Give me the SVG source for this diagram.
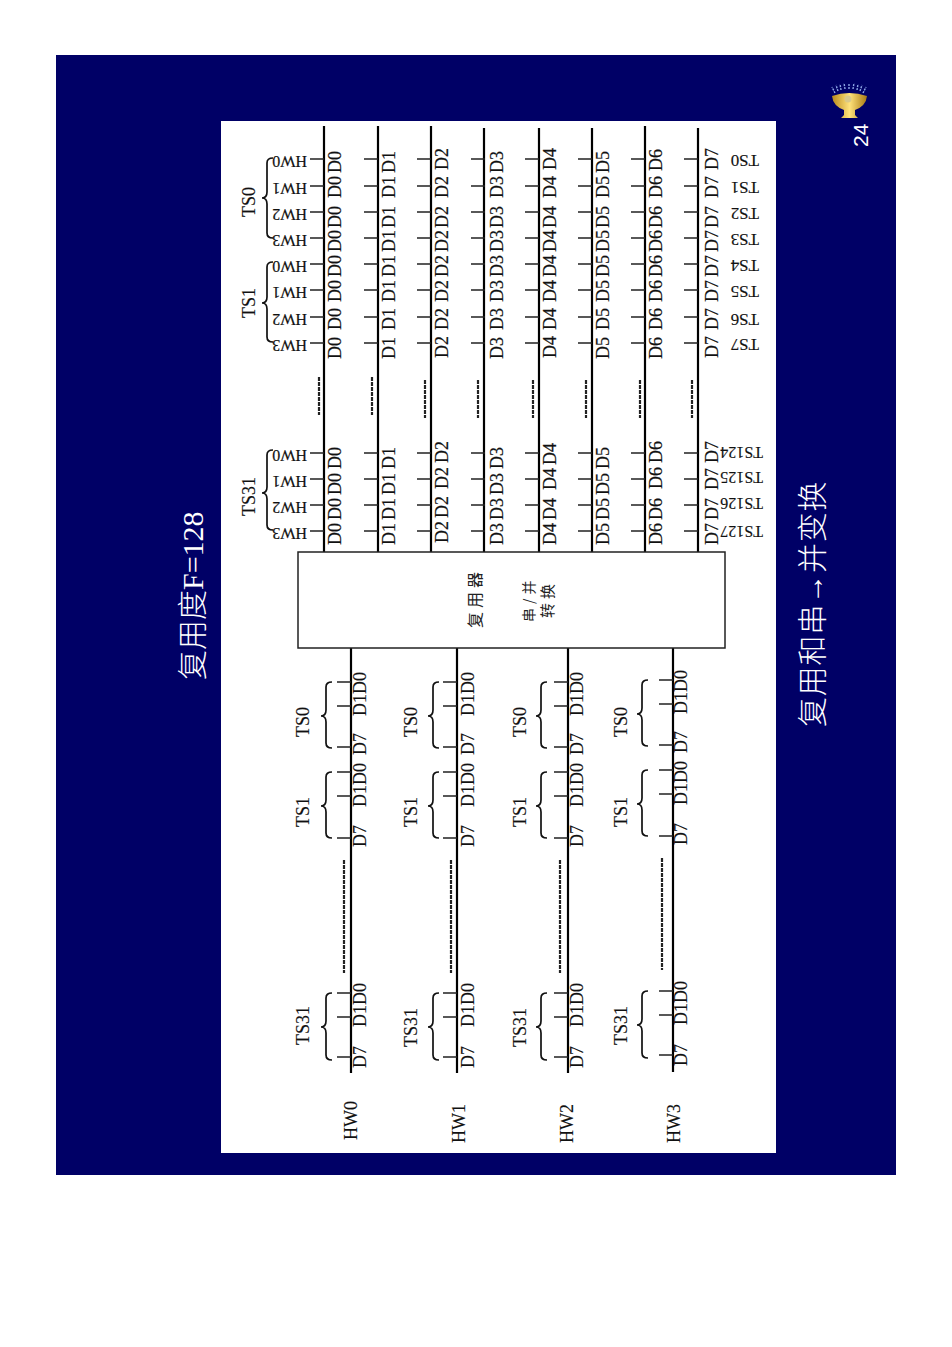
<svg xmlns="http://www.w3.org/2000/svg" width="952" height="1347" viewBox="0 0 952 1347">
<style>
text{font-family:"Liberation Serif","Noto Sans CJK SC",serif;fill:#111}
.d{font-size:18px;stroke:#111;stroke-width:.2}
.l{font-size:18px;stroke:#111;stroke-width:.15}
.r{font-size:17px;stroke:#111;stroke-width:.15}
.q{font-size:16px;stroke:#111;stroke-width:.15}
.h{font-size:16px;stroke:#111;stroke-width:.2}
.z{font-family:"Noto Sans CJK SC","Liberation Serif",serif;fill:#222}
.w{fill:#fff;font-size:30px;font-weight:300}
.bus{stroke:#000;stroke-width:2.2;fill:none}
.tick{stroke:#222;stroke-width:1.5;fill:none}
.brace{stroke:#111;stroke-width:1.7;fill:none}
.dash{stroke:#222;stroke-width:2.2;fill:none;stroke-dasharray:4 1}
</style>
<defs>
<linearGradient id="gold" x1="0" y1="0" x2="1" y2="0"><stop offset="0" stop-color="#b98a1c"/><stop offset=".5" stop-color="#ffe27a"/><stop offset="1" stop-color="#a87a14"/></linearGradient>
<path id="tu" d="M-14,159H0M-14,186H0M-14,212H0M-14,238H0M-14,264H0M-14,290H0M-14,317H0M-14,343H0M-14,453H0M-14,479H0M-14,505H0M-14,531H0"/>
<path id="tl" d="M-14,682H0M-14,706H0M-14,747H0M-14,772H0M-14,796H0M-14,838H0M-14,993H0M-14,1017H0M-14,1057H0"/>
<path id="bl" d="M6,682Q0,682 0,687V710Q0,716 -5,716Q0,716 0,722V743Q0,748 6,748M6,772Q0,772 0,777V800Q0,806 -5,806Q0,806 0,812V833Q0,838 6,838M6,993Q0,993 0,998V1021Q0,1027 -5,1027Q0,1027 0,1033V1055Q0,1060 6,1060"/>
</defs>
<rect width="952" height="1347" fill="#fff"/>
<rect x="56" y="55" width="840" height="1120" fill="#000066"/>
<rect x="221" y="121" width="555" height="1032" fill="#fff"/>

<text class="w" transform="translate(203,680) rotate(-90)">复用度F=128</text>
<text class="w" transform="translate(823,727) rotate(-90)" letter-spacing=".8">复用和串→并变换</text>
<text transform="translate(868,147) rotate(-90)" style="font-family:'Liberation Sans',sans-serif;font-size:21px;fill:#fff">24</text>

<g id="icon">
<path d="M835,93L832,87M838,91L836,85M841,90L840,84M845,89L844,83M849,89V83M853,89L854,83M857,90L858,84M860,91L862,85M863,93L866,87" stroke="#8fa8e8" stroke-width="1.4" stroke-dasharray="2 1" fill="none"/>
<path d="M832,96Q849,90 867,96Q866,106 855,110L855,115L858,118H841L844,115L844,110Q833,106 832,96Z" fill="url(#gold)"/>
<circle cx="848" cy="99" r="3.5" fill="#d9c98a"/>
</g>

<g id="connectors">
<path class="bus" d="M324,126V552M378,126V552M431,126V552M484,128V552M539,128V552M592,128V552M645,126V552M698,128V552M351,648V1073M457,648V1073M568,648V1073M673,648V1072"/>
<g class="tick">
<use href="#tu" x="324"/><use href="#tu" x="378"/><use href="#tu" x="431"/><use href="#tu" x="485"/><use href="#tu" x="539"/><use href="#tu" x="592"/><use href="#tu" x="645"/><use href="#tu" x="698"/>
<use href="#tl" x="351"/><use href="#tl" x="457"/><use href="#tl" x="568"/><use href="#tl" x="673" y="-2"/>
</g>
<path class="dash" d="M319,377V415M372,377V415M425,380V418M478,380V418M533,380V418M586,380V418M640,380V418M692,380V418M344,860V973M451,860V973M560,860V973M662,858V970"/>
</g>

<g id="mux">
<rect x="298" y="552" width="427" height="96" fill="#fff" stroke="#222" stroke-width="1.5"/>
<text class="z" font-size="16" letter-spacing="4" transform="translate(481,628) rotate(-90)">复用器</text>
<text class="z" font-size="14" letter-spacing="4" transform="translate(534,622) rotate(-90)">串/并</text>
<text class="z" font-size="15" letter-spacing="4" transform="translate(553,618) rotate(-90)">转换</text>
</g>

<g id="hw-labels-top">
<path class="brace" d="M273,158Q267,158 267,163V192Q267,198 262,198Q267,198 267,204V233Q267,238 273,238M273,262Q267,262 267,267V297Q267,303 262,303Q267,303 267,309V337Q267,342 273,342M273,450Q267,450 267,455V487Q267,493 262,493Q267,493 267,499V525Q267,530 273,530"/>
<text class="l" transform="translate(255,217) rotate(-90)">TS0</text>
<text class="l" transform="translate(255,318) rotate(-90)">TS1</text>
<text class="l" transform="translate(255,516) rotate(-90)">TS31</text>
<text class="h" transform="translate(307,156) rotate(180)">HW0</text>
<text class="h" transform="translate(307,183) rotate(180)">HW1</text>
<text class="h" transform="translate(307,209) rotate(180)">HW2</text>
<text class="h" transform="translate(307,235) rotate(180)">HW3</text>
<text class="h" transform="translate(307,261) rotate(180)">HW0</text>
<text class="h" transform="translate(307,287) rotate(180)">HW1</text>
<text class="h" transform="translate(307,314) rotate(180)">HW2</text>
<text class="h" transform="translate(307,340) rotate(180)">HW3</text>
<text class="h" transform="translate(307,450) rotate(180)">HW0</text>
<text class="h" transform="translate(307,476) rotate(180)">HW1</text>
<text class="h" transform="translate(307,502) rotate(180)">HW2</text>
<text class="h" transform="translate(307,528) rotate(180)">HW3</text>
</g>

<g id="col-d0" transform="translate(341,0) rotate(-90)">
<text class="d" x="-359">D0</text><text class="d" x="-330">D0</text><text class="d" x="-302">D0</text><text class="d" x="-277">D0</text><text class="d" x="-252">D0</text><text class="d" x="-228">D0</text><text class="d" x="-198">D0</text><text class="d" x="-173">D0</text>
<text class="d" x="-545">D0</text><text class="d" x="-520">D0</text><text class="d" x="-495">D0</text><text class="d" x="-469">D0</text>
</g>
<g id="col-d1" transform="translate(395,0) rotate(-90)">
<text class="d" x="-359">D1</text><text class="d" x="-330">D1</text><text class="d" x="-302">D1</text><text class="d" x="-277">D1</text><text class="d" x="-252">D1</text><text class="d" x="-228">D1</text><text class="d" x="-198">D1</text><text class="d" x="-173">D1</text>
<text class="d" x="-545">D1</text><text class="d" x="-520">D1</text><text class="d" x="-495">D1</text><text class="d" x="-469">D1</text>
</g>
<g id="col-d2" transform="translate(448,0) rotate(-90)">
<text class="d" x="-358">D2</text><text class="d" x="-330">D2</text><text class="d" x="-302">D2</text><text class="d" x="-277">D2</text><text class="d" x="-252">D2</text><text class="d" x="-228">D2</text><text class="d" x="-198">D2</text><text class="d" x="-170">D2</text>
<text class="d" x="-543">D2</text><text class="d" x="-518">D2</text><text class="d" x="-489">D2</text><text class="d" x="-463">D2</text>
</g>
<g id="col-d3" transform="translate(503,0) rotate(-90)">
<text class="d" x="-359">D3</text><text class="d" x="-330">D3</text><text class="d" x="-302">D3</text><text class="d" x="-277">D3</text><text class="d" x="-252">D3</text><text class="d" x="-228">D3</text><text class="d" x="-198">D3</text><text class="d" x="-173">D3</text>
<text class="d" x="-545">D3</text><text class="d" x="-520">D3</text><text class="d" x="-495">D3</text><text class="d" x="-469">D3</text>
</g>
<g id="col-d4" transform="translate(556,0) rotate(-90)">
<text class="d" x="-358">D4</text><text class="d" x="-330">D4</text><text class="d" x="-302">D4</text><text class="d" x="-277">D4</text><text class="d" x="-252">D4</text><text class="d" x="-228">D4</text><text class="d" x="-198">D4</text><text class="d" x="-170">D4</text>
<text class="d" x="-545">D4</text><text class="d" x="-520">D4</text><text class="d" x="-490">D4</text><text class="d" x="-465">D4</text>
</g>
<g id="col-d5" transform="translate(609,0) rotate(-90)">
<text class="d" x="-359">D5</text><text class="d" x="-330">D5</text><text class="d" x="-302">D5</text><text class="d" x="-277">D5</text><text class="d" x="-252">D5</text><text class="d" x="-228">D5</text><text class="d" x="-198">D5</text><text class="d" x="-173">D5</text>
<text class="d" x="-545">D5</text><text class="d" x="-520">D5</text><text class="d" x="-495">D5</text><text class="d" x="-469">D5</text>
</g>
<g id="col-d6" transform="translate(662,0) rotate(-90)">
<text class="d" x="-359">D6</text><text class="d" x="-330">D6</text><text class="d" x="-302">D6</text><text class="d" x="-277">D6</text><text class="d" x="-252">D6</text><text class="d" x="-228">D6</text><text class="d" x="-198">D6</text><text class="d" x="-171">D6</text>
<text class="d" x="-545">D6</text><text class="d" x="-520">D6</text><text class="d" x="-489">D6</text><text class="d" x="-463">D6</text>
</g>
<g id="col-d7" transform="translate(718,0) rotate(-90)">
<text class="d" x="-358">D7</text><text class="d" x="-330">D7</text><text class="d" x="-302">D7</text><text class="d" x="-277">D7</text><text class="d" x="-252">D7</text><text class="d" x="-228">D7</text><text class="d" x="-198">D7</text><text class="d" x="-170">D7</text>
<text class="d" x="-545">D7</text><text class="d" x="-520">D7</text><text class="d" x="-490">D7</text><text class="d" x="-463">D7</text>
</g>

<g id="ts-labels-right">
<text class="r" transform="translate(759,155) rotate(180)">TS0</text>
<text class="r" transform="translate(759,182) rotate(180)">TS1</text>
<text class="r" transform="translate(759,208) rotate(180)">TS2</text>
<text class="r" transform="translate(759,234) rotate(180)">TS3</text>
<text class="r" transform="translate(759,260) rotate(180)">TS4</text>
<text class="r" transform="translate(759,286) rotate(180)">TS5</text>
<text class="r" transform="translate(759,314) rotate(180)">TS6</text>
<text class="r" transform="translate(759,339) rotate(180)">TS7</text>
<text class="q" transform="translate(763,447) rotate(180)">TS124</text>
<text class="q" transform="translate(763,472) rotate(180)">TS125</text>
<text class="q" transform="translate(763,498) rotate(180)">TS126</text>
<text class="q" transform="translate(763,526) rotate(180)">TS127</text>
</g>

<g id="input-hw0">
<use href="#bl" x="326" class="brace"/>
<g transform="translate(309,0) rotate(-90)"><text class="l" x="-737">TS0</text><text class="l" x="-827">TS1</text><text class="l" x="-1045">TS31</text></g>
<g transform="translate(366,0) rotate(-90)"><text class="l" x="-847">D7</text><text class="l" x="-807">D1D0</text><text class="l" x="-755">D7</text><text class="l" x="-716">D1D0</text><text class="l" x="-1068">D7</text><text class="l" x="-1027">D1D0</text></g>
<text class="l" transform="translate(357,1140) rotate(-90)">HW0</text>
</g>
<g id="input-hw1">
<use href="#bl" x="433" class="brace"/>
<g transform="translate(417,0) rotate(-90)"><text class="l" x="-737">TS0</text><text class="l" x="-827">TS1</text><text class="l" x="-1047">TS31</text></g>
<g transform="translate(474,0) rotate(-90)"><text class="l" x="-847">D7</text><text class="l" x="-807">D1D0</text><text class="l" x="-755">D7</text><text class="l" x="-716">D1D0</text><text class="l" x="-1068">D7</text><text class="l" x="-1027">D1D0</text></g>
<text class="l" transform="translate(465,1143) rotate(-90)">HW1</text>
</g>
<g id="input-hw2">
<use href="#bl" x="541" class="brace"/>
<g transform="translate(526,0) rotate(-90)"><text class="l" x="-737">TS0</text><text class="l" x="-827">TS1</text><text class="l" x="-1047">TS31</text></g>
<g transform="translate(583,0) rotate(-90)"><text class="l" x="-847">D7</text><text class="l" x="-807">D1D0</text><text class="l" x="-755">D7</text><text class="l" x="-716">D1D0</text><text class="l" x="-1068">D7</text><text class="l" x="-1027">D1D0</text></g>
<text class="l" transform="translate(573,1143) rotate(-90)">HW2</text>
</g>
<g id="input-hw3">
<use href="#bl" x="642" y="-2" class="brace"/>
<g transform="translate(627,0) rotate(-90)"><text class="l" x="-737">TS0</text><text class="l" x="-827">TS1</text><text class="l" x="-1045">TS31</text></g>
<g transform="translate(687,0) rotate(-90)"><text class="l" x="-845">D7</text><text class="l" x="-805">D1D0</text><text class="l" x="-753">D7</text><text class="l" x="-714">D1D0</text><text class="l" x="-1066">D7</text><text class="l" x="-1025">D1D0</text></g>
<text class="l" transform="translate(680,1143) rotate(-90)">HW3</text>
</g>
</svg>
